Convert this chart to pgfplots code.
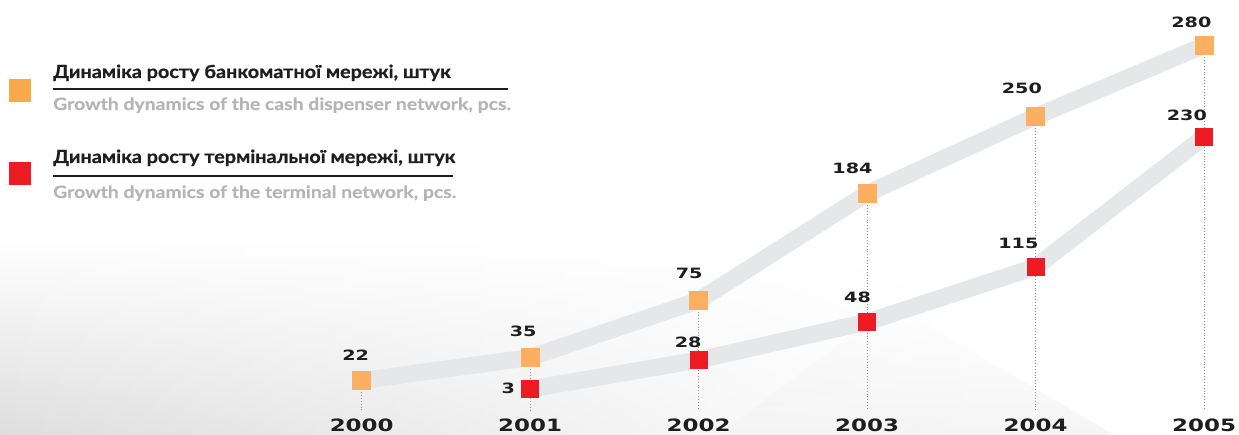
\documentclass[border=0pt]{standalone}
\usepackage{fontspec}
\usepackage{pgfplots}
\usepackage{pgfplotstable}
\pgfplotsset{compat=1.18}
\usetikzlibrary{fadings}
\setmainfont{Lato}
\newfontfamily\headfont[FakeStretch=1.1,FakeBold=0.8]{Lato}
\newfontfamily\subfont[FakeStretch=1.14,FakeBold=0.4]{Lato}
\newfontfamily\numfont[FakeStretch=1.35]{DejaVu Sans}

\definecolor{atmorange}{HTML}{FBB060}
\definecolor{legorange}{HTML}{F9A84A}
\definecolor{termred}{HTML}{ED1C24}
\definecolor{band}{HTML}{E6E7E8}
\definecolor{subgray}{HTML}{B5B5B5}
\definecolor{dotgray}{HTML}{8C8C8C}
\definecolor{ink}{HTML}{1E1E1E}

% ypos = height on the drawing (the chart is not to scale), val = printed value
% dx, dy = offset of the value label from the marker
\pgfplotstableread{
year ypos  val dx  dy
2000 54.5  22  7.5 20.3
2001 77.5  35  6.5 20.5
2002 134.5 75  4   22.3
2003 241.5 184 5.5 20.3
2004 318.5 250 6.5 22.5
2005 389.5 280 7.5 18.3
}\atm
\pgfplotstableread{
year ypos val dx  dy
2001 46   3   -15 -4.2
2002 75   28  3   12.8
2003 113  48  4   19
2004 168  115 3   18.3
2005 298  230 3   16.3
}\term

\pgfplotsset{
  valuelabels/.style={
    only marks, mark=none,
    point meta=explicit symbolic,
    visualization depends on={\thisrow{dx} \as \dx},
    visualization depends on={\thisrow{dy} \as \dy},
    nodes near coords={\pgfplotspointmeta},
    nodes near coords style={font=\numfont\bfseries\fontsize{14.2}{14.2}\selectfont,
      text=ink, anchor=base east, inner sep=0pt, xshift=\dx pt, yshift=\dy pt},
  },
}

\begin{document}
\begin{tikzpicture}
\begin{axis}[
  scale only axis, width=1239pt, height=435pt,
  xmin=1997.853, xmax=2005.207, ymin=0, ymax=435,
  clip=false, axis on top,
  axis line style={draw=none}, tick style={draw=none},
  ytick=\empty,
  xtick={2000,2001,2002,2003,2004,2005},
  xticklabels={2000,2001,2002,2003,2004,2005},
  xticklabel style={font=\numfont\bfseries\fontsize{17}{17}\selectfont,
    text=ink, anchor=base, inner sep=0pt, yshift=3pt},
]
% faint photo haze behind the chart
\shade[top color=white, bottom color=black!13, path fading=east]
  (rel axis cs:0,0) rectangle (rel axis cs:0.78,0.45);
\fill[black!4, path fading=north]
  (rel axis cs:0.58,0) -- (rel axis cs:0.72,0.30) -- (rel axis cs:0.90,0) -- cycle;

\addplot[band, line width=17pt, no markers] table[x=year, y=ypos] {\atm};
\addplot[band, line width=17pt, no markers] table[x=year, y=ypos] {\term};

% dotted drop lines
\addplot[only marks, mark=none,
  error bars/.cd, y dir=minus, y explicit, error mark=none,
  error bar style={dotgray, line width=0.9pt, dash pattern=on 0.9pt off 2pt}]
  table[x=year, y=ypos, y error expr=\thisrow{ypos}-25] {\atm};

\addplot[atmorange, only marks, mark=square*, mark size=9pt,
  mark options={draw=atmorange, fill=atmorange, line width=1pt}] table[x=year, y=ypos] {\atm};
\addplot[termred, only marks, mark=square*, mark size=8.5pt,
  mark options={draw=termred, fill=termred, line width=1pt}] table[x=year, y=ypos] {\term};

\addplot[valuelabels] table[x=year, y=ypos, meta=val] {\atm};
\addplot[valuelabels] table[x=year, y=ypos, meta=val] {\term};
\end{axis}

% legend
\fill[legorange] (9pt,333pt) rectangle (31pt,356pt);
\fill[termred] (9pt,250pt) rectangle (31pt,273pt);
\node[anchor=base west, inner sep=0pt, text=ink, font=\headfont\bfseries\fontsize{18}{18}\selectfont]
  at (53pt,357pt) {Динаміка росту банкоматної мережі, штук};
\draw[ink, line width=1.1pt] (53pt,346pt) -- (508pt,346pt);
\node[anchor=base west, inner sep=0pt, text=subgray, font=\subfont\bfseries\fontsize{17}{17}\selectfont]
  at (53pt,325pt) {Growth dynamics of the cash dispenser network, pcs.};
\node[anchor=base west, inner sep=0pt, text=ink, font=\headfont\bfseries\fontsize{18}{18}\selectfont]
  at (53pt,272pt) {Динаміка росту термінальної мережі, штук};
\draw[ink, line width=1.1pt] (53pt,259pt) -- (453pt,259pt);
\node[anchor=base west, inner sep=0pt, text=subgray, font=\subfont\bfseries\fontsize{17}{17}\selectfont]
  at (53pt,237pt) {Growth dynamics of the terminal network, pcs.};

\pgfresetboundingbox
\useasboundingbox (0,0) rectangle (1239pt,435pt);
\end{tikzpicture}
\end{document}
